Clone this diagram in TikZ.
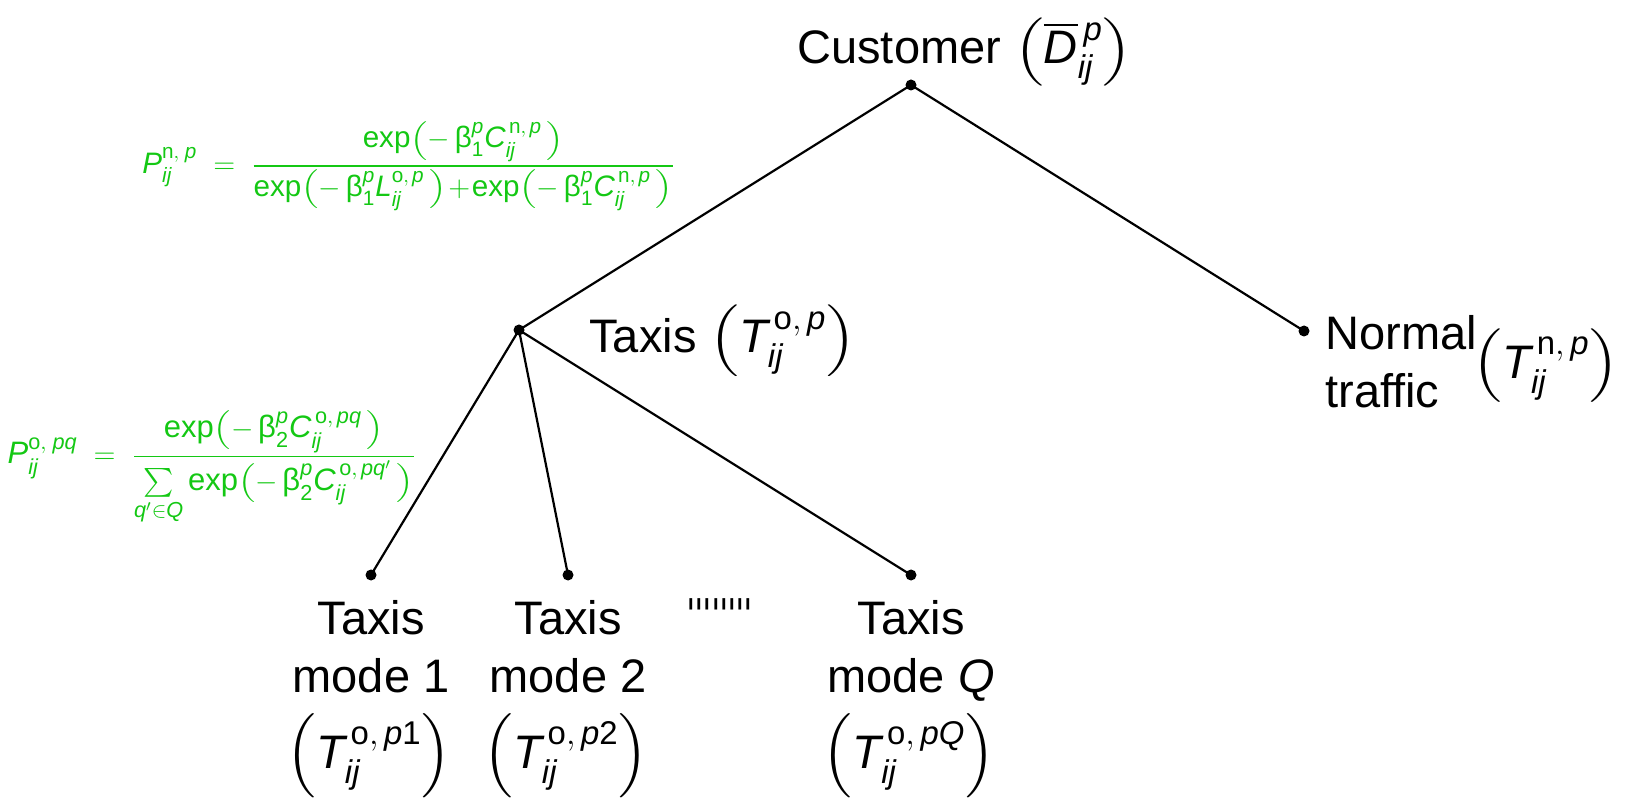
\documentclass[tikz,border=0pt]{standalone}
\usepackage{amsmath}
\usepackage{graphicx}
\usepackage{fontspec}
\setmainfont{Liberation Sans}
\newfontfamily\tickfont{DejaVu Sans}
\definecolor{fgreen}{RGB}{20,200,20}
\newcommand\vi[1]{\textit{#1}}
\newcommand\lpar[1]{\mathopen{\vcenter{\hbox{\scalebox{1}[#1]{$\Bigl($}}}}}
\newcommand\rpar[1]{\mathclose{\vcenter{\hbox{\scalebox{1}[#1]{$\Bigr)$}}}}}
\newcommand\ex[1]{\text{exp}{\lpar{0.75}#1\rpar{0.75}}}
\newcommand\tk{\makebox[4.1pt]{ˈ}}
\newcommand\tickrow{{\tickfont\fontsize{21}{21}\selectfont\tk\tk\tk\tk\tk\tk\tk\tk}}
\tikzset{
  dotn/.style={circle,fill=black,inner sep=0pt,minimum size=5.5pt},
  lbl/.style={font=\fontsize{23.5}{29}\selectfont,inner sep=0pt},
  frm/.style={font=\fontsize{15.5}{18.5}\selectfont,text=fgreen,inner sep=0pt},
  frmb/.style={font=\fontsize{14.8}{18}\selectfont,text=fgreen,inner sep=0pt},
  branch/.style={line width=1.1pt,black}
}
\begin{document}
\begin{tikzpicture}[x=0.5pt,y=-0.5pt]
\useasboundingbox (0,0) rectangle (1627,801);
% dots
\node[dotn] (cust) at (911,85) {};
\node[dotn] (taxis) at (519,330) {};
\node[dotn] (normal) at (1304,331) {};
\node[dotn] (m1) at (371,575) {};
\node[dotn] (m2) at (568,575) {};
\node[dotn] (mq) at (911,575) {};
% branches
\draw[branch] (cust.center) -- (taxis.center);
\draw[branch] (cust.center) -- (normal.center);
\draw[branch] (taxis.center) -- (m1.center);
\draw[branch] (taxis.center) -- (m2.center);
\draw[branch] (taxis.center) -- (mq.center);
% labels
\node[lbl,anchor=base west] (custl) at (797,64) {Customer \(\lpar{0.76}\overline{\vi{D}}{}^{\,\vi{p}}_{\vi{ij}}\rpar{0.76}\)};
\node[lbl,anchor=base west] (taxisl) at (589,353) {Taxis \(\lpar{0.8}\vi{T}^{\,\text{o},\,\vi{p}}_{\vi{ij}}\rpar{0.8}\)};
\node[lbl,anchor=base west,align=left] (normall) at (1325,408) {Normal\\traffic};
\node[lbl] (normalm) at (1546,366) {\(\lpar{0.82}\vi{T}^{\,\text{n},\,\vi{p}}_{\vi{ij}}\rpar{0.82}\)};
\node[lbl,anchor=base,align=center] (m1l) at (371,692) {Taxis\\mode 1};
\node[lbl,anchor=base,align=center] (m2l) at (568,692) {Taxis\\mode 2};
\node[lbl,anchor=base,align=center] (mql) at (911,692) {Taxis\\mode \vi{Q}};
\node[lbl] (m1m) at (369,756) {\(\lpar{0.94}\vi{T}^{\,\text{o},\,\vi{p}\text{1}}_{\vi{ij}}\rpar{0.94}\)};
\node[lbl] (m2m) at (566,756) {\(\lpar{0.94}\vi{T}^{\,\text{o},\,\vi{p}\text{2}}_{\vi{ij}}\rpar{0.94}\)};
\node[lbl] (mqm) at (909,756) {\(\lpar{0.94}\vi{T}^{\,\text{o},\,\vi{pQ}}_{\vi{ij}}\rpar{0.94}\)};
\node[lbl,anchor=base] (ticks) at (720,630) {\tickrow};
% formulas
\node[frmb] (f1) at (409,166) {\(\vi{P}^{\text{n},\;\vi{p}}_{\vi{ij}} \;=\; \dfrac{\ex{-\,\text{β}^{\vi{p}}_{\text{1}}\vi{C}^{\,\text{n},\,\vi{p}}_{\vi{ij}}\,}}{\ex{-\,\text{β}^{\vi{p}}_{\text{1}}\vi{L}^{\text{o},\,\vi{p}}_{\vi{ij}}\,}\!+\!\ex{-\,\text{β}^{\vi{p}}_{\text{1}}\vi{C}^{\,\text{n},\,\vi{p}}_{\vi{ij}}\,}}\)};
\node[frm] (f2) at (212,468) {\(\vi{P}^{\text{o},\;\vi{pq}}_{\vi{ij}} \;=\; \dfrac{\ex{-\,\text{β}^{\vi{p}}_{\text{2}}\vi{C}^{\,\text{o},\,\vi{pq}}_{\vi{ij}}\,}}{\sum\limits_{\vi{q}'\in\vi{Q}}\ex{-\,\text{β}^{\vi{p}}_{\text{2}}\vi{C}^{\,\text{o},\,\vi{pq}'}_{\vi{ij}}\,}}\)};
\end{tikzpicture}
\end{document}
